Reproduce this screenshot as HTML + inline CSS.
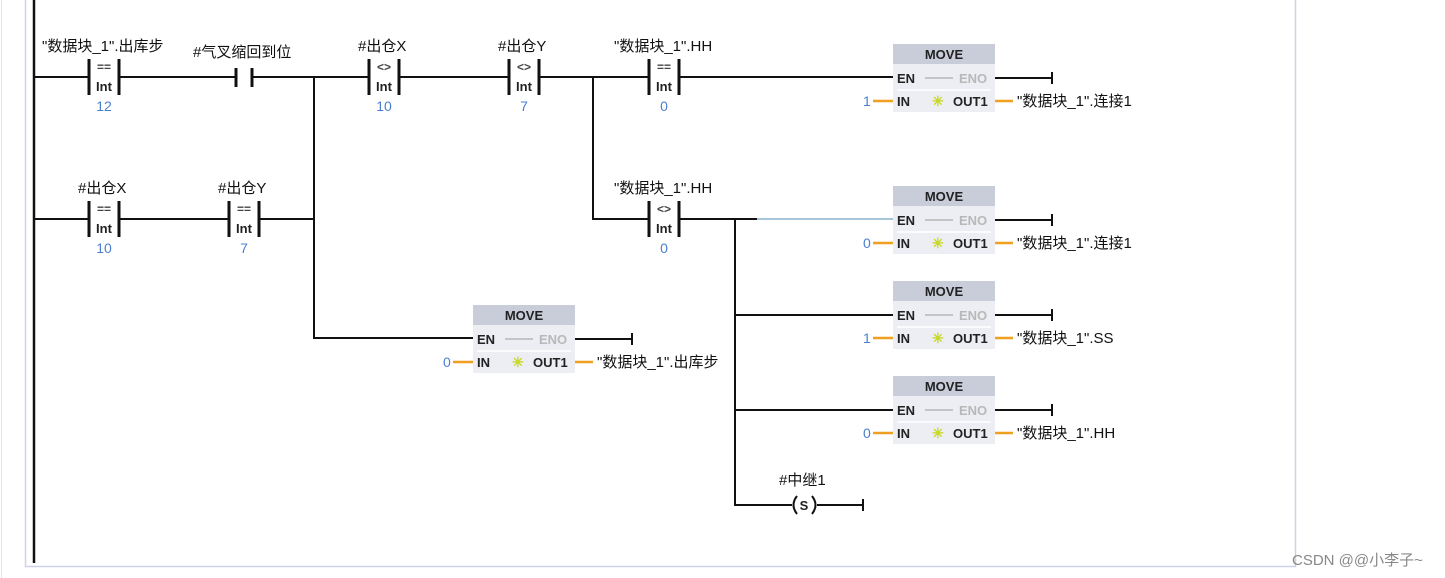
<!DOCTYPE html>
<html><head><meta charset="utf-8"><style>
html,body{margin:0;padding:0;background:#fff;width:1445px;height:578px;overflow:hidden}
svg{display:block}
text{font-family:"Liberation Sans","Noto Sans CJK SC",sans-serif}
.lbl{font-size:15px;fill:#111}
.val{font-size:14px;fill:#4a7fd0}
.op{font-size:12px;fill:#444;font-weight:bold}
.int{font-size:13px;fill:#222;font-weight:bold}
.w{stroke:#111;stroke-width:2;fill:none}
.bar{stroke:#111;stroke-width:3}
.or{stroke:#f0a020;stroke-width:2.5}
.mv{font-size:13px;font-weight:bold;fill:#222}
.gr{font-size:13px;font-weight:bold;fill:#b8b8b8}
</style></head><body>
<svg width="1445" height="578" viewBox="0 0 1445 578">
<line x1="1.5" y1="0" x2="1.5" y2="578" stroke="#e6e6e6" stroke-width="1"/>
<polyline points="25.5,0 25.5,566.5 1295.5,566.5 1295.5,0" fill="none" stroke="#d0d0ea" stroke-width="1.5"/>
<line x1="34" y1="0" x2="34" y2="563" stroke="#111" stroke-width="2.5"/>
<text x="1292" y="565" font-size="15" fill="#888">CSDN @@小李子~</text>

<path class="w" d="M34 77H89 M119 77H235 M253 77H368 M400 77H508 M540 77H648 M680 77H893"/>
<path class="w" d="M314 77V338H473"/>
<path class="w" d="M593 77V219H648"/>
<path class="w" d="M34 219H89 M119 219H229 M259 219H314"/>
<path class="w" d="M680 219H757"/>
<line x1="757" y1="219" x2="893" y2="219" stroke="#a8c4d8" stroke-width="2"/>
<path class="w" d="M735 219V505H792 M735 315H893 M735 410H893"/>
<path class="w" d="M817 505H863 M863 499V511"/>

<g>
<line class="bar" x1="89" y1="59" x2="89" y2="95"/><line class="bar" x1="119" y1="59" x2="119" y2="95"/>
<text class="op" x="104" y="71" text-anchor="middle">==</text><text class="int" x="104" y="91" text-anchor="middle">Int</text>
<text class="val" x="104" y="111" text-anchor="middle">12</text>
<text class="lbl" x="42" y="51">"数据块_1".出库步</text>
</g>
<g>
<line class="bar" x1="236" y1="68" x2="236" y2="87"/><line class="bar" x1="252" y1="68" x2="252" y2="87"/>
<text class="lbl" x="193" y="57">#气叉缩回到位</text>
</g>
<g>
<line class="bar" x1="369" y1="59" x2="369" y2="95"/><line class="bar" x1="399" y1="59" x2="399" y2="95"/>
<text class="op" x="384" y="71" text-anchor="middle">&lt;&gt;</text><text class="int" x="384" y="91" text-anchor="middle">Int</text>
<text class="val" x="384" y="111" text-anchor="middle">10</text>
<text class="lbl" x="358" y="51">#出仓X</text>
</g>
<g>
<line class="bar" x1="509" y1="59" x2="509" y2="95"/><line class="bar" x1="539" y1="59" x2="539" y2="95"/>
<text class="op" x="524" y="71" text-anchor="middle">&lt;&gt;</text><text class="int" x="524" y="91" text-anchor="middle">Int</text>
<text class="val" x="524" y="111" text-anchor="middle">7</text>
<text class="lbl" x="498" y="51">#出仓Y</text>
</g>
<g>
<line class="bar" x1="649" y1="59" x2="649" y2="95"/><line class="bar" x1="679" y1="59" x2="679" y2="95"/>
<text class="op" x="664" y="71" text-anchor="middle">==</text><text class="int" x="664" y="91" text-anchor="middle">Int</text>
<text class="val" x="664" y="111" text-anchor="middle">0</text>
<text class="lbl" x="614" y="51">"数据块_1".HH</text>
</g>
<g>
<line class="bar" x1="89" y1="201" x2="89" y2="237"/><line class="bar" x1="119" y1="201" x2="119" y2="237"/>
<text class="op" x="104" y="213" text-anchor="middle">==</text><text class="int" x="104" y="233" text-anchor="middle">Int</text>
<text class="val" x="104" y="253" text-anchor="middle">10</text>
<text class="lbl" x="78" y="193">#出仓X</text>
</g>
<g>
<line class="bar" x1="229" y1="201" x2="229" y2="237"/><line class="bar" x1="259" y1="201" x2="259" y2="237"/>
<text class="op" x="244" y="213" text-anchor="middle">==</text><text class="int" x="244" y="233" text-anchor="middle">Int</text>
<text class="val" x="244" y="253" text-anchor="middle">7</text>
<text class="lbl" x="218" y="193">#出仓Y</text>
</g>
<g>
<line class="bar" x1="649" y1="201" x2="649" y2="237"/><line class="bar" x1="679" y1="201" x2="679" y2="237"/>
<text class="op" x="664" y="213" text-anchor="middle">&lt;&gt;</text><text class="int" x="664" y="233" text-anchor="middle">Int</text>
<text class="val" x="664" y="253" text-anchor="middle">0</text>
<text class="lbl" x="614" y="193">"数据块_1".HH</text>
</g>

<text class="lbl" x="779" y="485">#中继1</text>
<path d="M797 496 Q790 505 797 514" class="w" stroke-width="2.5"/>
<path d="M812 496 Q819 505 812 514" class="w" stroke-width="2.5"/>
<text x="804" y="510" font-size="13" font-weight="bold" fill="#222" text-anchor="middle">S</text>

<g transform="translate(893,44)">
<rect x="0" y="0" width="102" height="68" fill="#eceef3"/><rect x="0" y="0" width="102" height="20" fill="#c9ccd9"/>
<line x1="4" y1="46" x2="98" y2="46" stroke="#fff" stroke-width="1.5"/>
<text class="mv" x="51" y="15" text-anchor="middle">MOVE</text>
<text class="mv" x="4" y="39">EN</text><line x1="32" y1="34" x2="60" y2="34" stroke="#999"/><text class="gr" x="66" y="39">ENO</text>
<text class="mv" x="4" y="62">IN</text><text x="39" y="62" font-size="14" fill="#c8d820" font-weight="bold">✳</text><text class="mv" x="60" y="62">OUT1</text>
<path class="w" d="M102 34H159 M159 28V40"/>
<line class="or" x1="-20" y1="57" x2="0" y2="57"/><line class="or" x1="102" y1="57" x2="120" y2="57"/>
<text class="val" x="-30" y="62">1</text><text class="lbl" x="124" y="62">"数据块_1".连接1</text>
</g>
<g transform="translate(893,186)">
<rect x="0" y="0" width="102" height="68" fill="#eceef3"/><rect x="0" y="0" width="102" height="20" fill="#c9ccd9"/>
<line x1="4" y1="46" x2="98" y2="46" stroke="#fff" stroke-width="1.5"/>
<text class="mv" x="51" y="15" text-anchor="middle">MOVE</text>
<text class="mv" x="4" y="39">EN</text><line x1="32" y1="34" x2="60" y2="34" stroke="#999"/><text class="gr" x="66" y="39">ENO</text>
<text class="mv" x="4" y="62">IN</text><text x="39" y="62" font-size="14" fill="#c8d820" font-weight="bold">✳</text><text class="mv" x="60" y="62">OUT1</text>
<path class="w" d="M102 34H159 M159 28V40"/>
<line class="or" x1="-20" y1="57" x2="0" y2="57"/><line class="or" x1="102" y1="57" x2="120" y2="57"/>
<text class="val" x="-30" y="62">0</text><text class="lbl" x="124" y="62">"数据块_1".连接1</text>
</g>
<g transform="translate(893,281)">
<rect x="0" y="0" width="102" height="68" fill="#eceef3"/><rect x="0" y="0" width="102" height="20" fill="#c9ccd9"/>
<line x1="4" y1="46" x2="98" y2="46" stroke="#fff" stroke-width="1.5"/>
<text class="mv" x="51" y="15" text-anchor="middle">MOVE</text>
<text class="mv" x="4" y="39">EN</text><line x1="32" y1="34" x2="60" y2="34" stroke="#999"/><text class="gr" x="66" y="39">ENO</text>
<text class="mv" x="4" y="62">IN</text><text x="39" y="62" font-size="14" fill="#c8d820" font-weight="bold">✳</text><text class="mv" x="60" y="62">OUT1</text>
<path class="w" d="M102 34H159 M159 28V40"/>
<line class="or" x1="-20" y1="57" x2="0" y2="57"/><line class="or" x1="102" y1="57" x2="120" y2="57"/>
<text class="val" x="-30" y="62">1</text><text class="lbl" x="124" y="62">"数据块_1".SS</text>
</g>
<g transform="translate(893,376)">
<rect x="0" y="0" width="102" height="68" fill="#eceef3"/><rect x="0" y="0" width="102" height="20" fill="#c9ccd9"/>
<line x1="4" y1="46" x2="98" y2="46" stroke="#fff" stroke-width="1.5"/>
<text class="mv" x="51" y="15" text-anchor="middle">MOVE</text>
<text class="mv" x="4" y="39">EN</text><line x1="32" y1="34" x2="60" y2="34" stroke="#999"/><text class="gr" x="66" y="39">ENO</text>
<text class="mv" x="4" y="62">IN</text><text x="39" y="62" font-size="14" fill="#c8d820" font-weight="bold">✳</text><text class="mv" x="60" y="62">OUT1</text>
<path class="w" d="M102 34H159 M159 28V40"/>
<line class="or" x1="-20" y1="57" x2="0" y2="57"/><line class="or" x1="102" y1="57" x2="120" y2="57"/>
<text class="val" x="-30" y="62">0</text><text class="lbl" x="124" y="62">"数据块_1".HH</text>
</g>
<g transform="translate(473,305)">
<rect x="0" y="0" width="102" height="68" fill="#eceef3"/><rect x="0" y="0" width="102" height="20" fill="#c9ccd9"/>
<line x1="4" y1="46" x2="98" y2="46" stroke="#fff" stroke-width="1.5"/>
<text class="mv" x="51" y="15" text-anchor="middle">MOVE</text>
<text class="mv" x="4" y="39">EN</text><line x1="32" y1="34" x2="60" y2="34" stroke="#999"/><text class="gr" x="66" y="39">ENO</text>
<text class="mv" x="4" y="62">IN</text><text x="39" y="62" font-size="14" fill="#c8d820" font-weight="bold">✳</text><text class="mv" x="60" y="62">OUT1</text>
<path class="w" d="M102 34H159 M159 28V40"/>
<line class="or" x1="-20" y1="57" x2="0" y2="57"/><line class="or" x1="102" y1="57" x2="120" y2="57"/>
<text class="val" x="-30" y="62">0</text><text class="lbl" x="124" y="62">"数据块_1".出库步</text>
</g>
</svg>
</body></html>
